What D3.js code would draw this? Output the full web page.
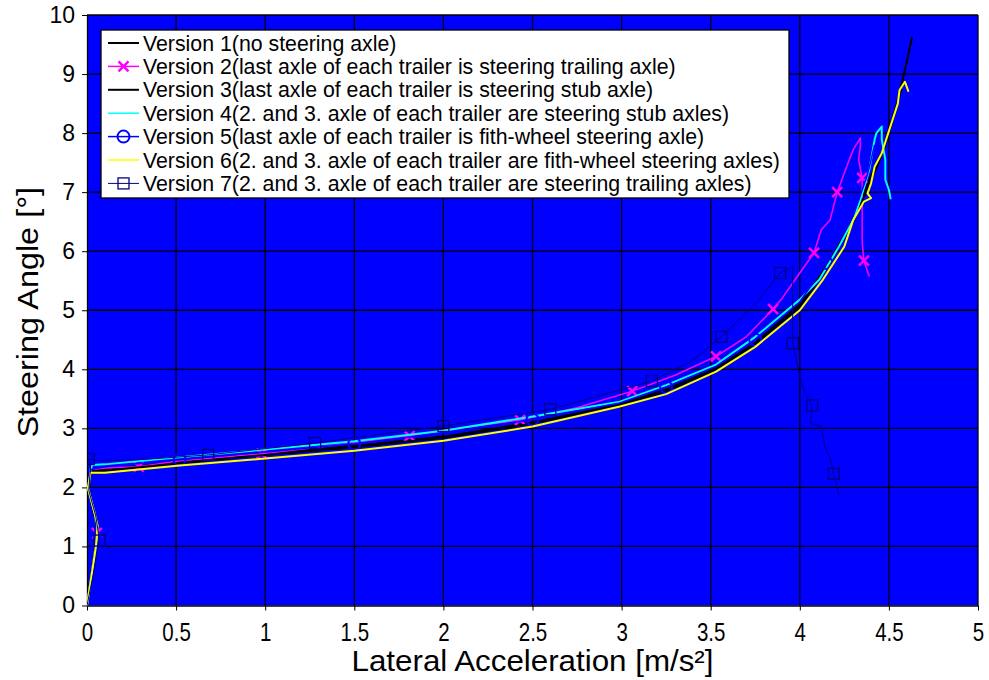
<!DOCTYPE html>
<html>
<head>
<meta charset="utf-8">
<script src="https://cdnjs.cloudflare.com/ajax/libs/d3/7.8.5/d3.min.js"></script>
<style>
  body { margin: 0; background: #fff; }
  text { font-family: "Liberation Sans", Arial, sans-serif; }
</style>
</head>
<body>
<div id="chart"></div>
<script>
// Tick values
var xTicks = [0, 0.5, 1, 1.5, 2, 2.5, 3, 3.5, 4, 4.5, 5];
var yTicks = [0, 1, 2, 3, 4, 5, 6, 7, 8, 9, 10];

var legendLabels = [
  'Version 1(no steering axle)',
  'Version 2(last axle of each trailer is steering trailing axle)',
  'Version 3(last axle of each trailer is steering stub axle)',
  'Version 4(2. and 3. axle of each trailer are steering stub axles)',
  'Version 5(last axle of each trailer is fith-wheel steering axle)',
  'Version 6(2. and 3. axle of each trailer are fith-wheel steering axles)',
  'Version 7(2. and 3. axle of each trailer are steering trailing axles)'
];

// [lateral acceleration, steering angle]
var version1 = [[0,0],[0.05,1.1],[0.045,1.5],[0.01,1.95],[0.02,2.28],[0.1,2.3],[0.52,2.43],[1.0,2.57],
  [1.5,2.7],[2.0,2.86],[2.5,3.1],[2.99,3.41],[3.25,3.66],[3.53,4.02],[3.75,4.45],[4.0,5.1],[4.15,5.75],
  [4.3,6.53],[4.39,7.21],[4.46,7.66],[4.55,8.55],[4.59,9.07],[4.63,9.62]];

var version2 = [[0,0],[0.03,0.6],[0.055,1.23],[0.045,1.55],[0.01,1.95],[0.02,2.3],[0.1,2.33],[0.29,2.35],
  [0.52,2.45],[0.98,2.57],[1.4,2.72],[1.81,2.87],[2.0,2.97],[2.43,3.14],[2.75,3.35],[3.06,3.63],[3.3,3.9],
  [3.53,4.22],[3.7,4.55],[3.85,5.02],[3.9,5.2],[4.0,5.63],[4.08,5.97],[4.12,6.36],[4.17,6.53],[4.21,7.0],
  [4.27,7.49],[4.3,7.72],[4.34,7.92],[4.34,7.78],[4.33,7.55],[4.35,7.24],[4.35,6.53],[4.35,6.14],
  [4.36,5.84],[4.39,5.57]];
var version2Marks = [[0.055,1.23],[0.29,2.35],[0.98,2.57],[1.81,2.87],[2.43,3.14],[3.06,3.63],[3.53,4.22],
  [3.85,5.02],[4.08,5.97],[4.21,7.0],[4.35,7.24],[4.36,5.84]];

var version3 = [[0,0],[0.05,1.05],[0.045,1.5],[0.01,1.95],[0.02,2.27],[0.1,2.28],[0.52,2.41],[1.0,2.55],
  [1.5,2.68],[2.0,2.84],[2.5,3.08],[2.99,3.39],[3.25,3.63],[3.53,3.99],[3.75,4.42],[4.0,5.06],[4.15,5.7],
  [4.3,6.5],[4.4,7.2],[4.47,7.7],[4.53,8.3],[4.57,8.75]];

var version4 = [[0,0],[0.055,1.15],[0.045,1.55],[0.008,1.95],[0.02,2.3],[0.03,2.38],[0.1,2.39],[0.52,2.51],
  [1.0,2.64],[1.5,2.78],[2.0,2.96],[2.5,3.2],[2.99,3.45],[3.25,3.73],[3.53,4.08],[3.75,4.55],[4.0,5.18],
  [4.11,5.52],[4.22,6.08],[4.3,6.53],[4.34,6.87],[4.39,7.38],[4.42,7.89],[4.43,8.0],[4.46,8.11],
  [4.46,7.89],[4.48,7.55],[4.48,7.21],[4.5,7.04],[4.51,6.88]];

var version5 = [[0,0],[0.05,1.1],[0.045,1.55],[0.01,1.95],[0.02,2.3],[0.1,2.35],[0.52,2.47],[1.0,2.6],
  [1.5,2.74],[2.0,2.92],[2.5,3.15],[2.99,3.43],[3.25,3.7],[3.53,4.05],[3.75,4.5],[4.0,5.14],[4.15,5.8],
  [4.3,6.6],[4.38,7.3],[4.42,7.8]];
var version5Marks = [[0.05,1.1],[0.52,2.47],[1.5,2.74],[2.5,3.15],[3.25,3.7],[3.75,4.5],[4.15,5.8]];

var version6 = [[0,0],[0.05,1.0],[0.06,1.35],[0.03,1.7],[0.005,2.0],[0.02,2.25],[0.1,2.25],[0.52,2.37],
  [1.0,2.49],[1.5,2.62],[2.0,2.79],[2.5,3.03],[2.99,3.37],[3.25,3.58],[3.53,3.96],[3.75,4.38],[4.0,5.0],
  [4.13,5.52],[4.25,6.08],[4.3,6.53],[4.36,6.84],[4.4,6.9],[4.38,6.98],[4.4,7.15],[4.42,7.43],[4.46,7.66],
  [4.49,7.94],[4.52,8.22],[4.55,8.5],[4.56,8.73],[4.59,8.87],[4.61,8.7]];

var version7 = [[0,0],[0.04,0.6],[0.07,1.1],[0.05,1.5],[0.01,1.95],[0.02,2.35],[0.01,2.48],[0.08,2.45],
  [0.3,2.47],[0.68,2.55],[1.28,2.75],[2.0,3.04],[2.6,3.32],[2.99,3.65],[3.17,3.8],[3.4,4.15],[3.56,4.55],
  [3.75,5.1],[3.89,5.63],[3.96,5.74],[3.96,4.84],[3.96,4.44],[4.0,3.88],[4.03,3.6],[4.07,3.39],[4.06,3.09],
  [4.12,3.03],[4.14,2.69],[4.17,2.5],[4.19,2.23],[4.22,1.87]];
var version7Marks = [[0.07,1.1],[0.01,2.48],[0.68,2.55],[1.28,2.75],[2.0,3.04],[2.6,3.32],[3.17,3.8],
  [3.56,4.55],[3.89,5.63],[3.96,4.44],[4.07,3.39],[4.19,2.23]];

var W = 989, H = 680;
var margin = {left: 87, top: 15, right: 11, bottom: 74.5};
var pw = W - margin.left - margin.right, ph = H - margin.top - margin.bottom;

var svg = d3.select('#chart').append('svg')
    .attr('width', W)
    .attr('height', H);

var x = d3.scaleLinear().domain([0, 5]).range([0, pw]);
var y = d3.scaleLinear().domain([0, 10]).range([ph, 0]);

var g = svg.append('g')
    .attr('transform', 'translate(' + margin.left + ',' + margin.top + ')');

// Plot background
g.append('rect')
  .attr('width', pw)
  .attr('height', ph)
  .attr('fill', '#0000ff');

// Grid
g.selectAll('line.hgrid')
  .data(yTicks.slice(1))
  .enter().append('line')
    .attr('x1', 0).attr('x2', pw)
    .attr('y1', function(d) { return y(d); })
    .attr('y2', function(d) { return y(d); })
    .attr('stroke', '#000')
    .attr('stroke-width', 1.3);
g.selectAll('line.vgrid')
  .data(xTicks.slice(1))
  .enter().append('line')
    .attr('y1', 0).attr('y2', ph)
    .attr('x1', function(d) { return x(d); })
    .attr('x2', function(d) { return x(d); })
    .attr('stroke', '#000')
    .attr('stroke-width', 1.3);

// Axes
var xAxis = g.append('g')
    .attr('transform', 'translate(0,' + ph + ')')
    .call(d3.axisBottom(x).tickValues(xTicks).tickSize(5).tickSizeOuter(0).tickFormat(d3.format('')));
var yAxis = g.append('g')
    .call(d3.axisLeft(y).tickValues(yTicks).tickSize(5).tickSizeOuter(0).tickFormat(d3.format('')));

[xAxis, yAxis].forEach(function(ax) {
  ax.select('.domain').attr('stroke', '#000').attr('stroke-width', 1.3);
  ax.selectAll('.tick line').attr('stroke', '#000').attr('stroke-width', 1);
  ax.selectAll('.tick text')
    .attr('fill', '#000')
    .style('font-family', '"Liberation Sans", Arial, sans-serif');
});
// x labels look condensed in the original
xAxis.selectAll('.tick text')
  .style('font-size', '25px')
  .attr('y', null)
  .attr('dy', null)
  .attr('transform', 'translate(0,35) scale(0.82,1)');
yAxis.selectAll('.tick text')
  .style('font-size', '23px')
  .attr('x', -12);

// Axis titles
svg.append('text')
  .attr('transform', 'translate(' + (margin.left + pw / 2) + ',671) scale(1.08,1)')
  .attr('text-anchor', 'middle')
  .style('font-size', '29px')
  .text('Lateral Acceleration [m/s²]');

svg.append('text')
  .attr('transform', 'translate(27,' + (margin.top + ph / 2 + 2) + ') rotate(-90) scale(1.08,1)')
  .attr('text-anchor', 'middle')
  .attr('dy', '0.36em')
  .style('font-size', '30px')
  .text('Steering Angle [°]');

// Series
var line = d3.line()
    .x(function(d) { return x(d[0]); })
    .y(function(d) { return y(d[1]); });

var series = [
  {data: version1, color: '#000000', width: 2},
  {data: version2, color: '#ff00ff', width: 1.5, marks: version2Marks, marker: 'x'},
  {data: version3, color: '#000000', width: 2},
  {data: version4, color: '#00ffff', width: 2},
  {data: version5, color: '#0000ff', width: 1.5, marks: version5Marks, marker: 'o'},
  {data: version6, color: '#ffff00', width: 2},
  {data: version7, color: '#000080', width: 1, marks: version7Marks, marker: 's'}
];

g.append('clipPath').attr('id', 'plotclip')
  .append('rect').attr('width', pw).attr('height', ph);

var plot = g.append('g').attr('clip-path', 'url(#plotclip)');

var drawMarker = function(sel, type, color, cx, cy) {
  if (type == 'x') {
    sel.append('path')
      .attr('d', 'M' + (cx - 5) + ',' + (cy - 5) + 'L' + (cx + 5) + ',' + (cy + 5)
        + 'M' + (cx - 5) + ',' + (cy + 5) + 'L' + (cx + 5) + ',' + (cy - 5))
      .attr('stroke', color)
      .attr('stroke-width', 2.5)
      .attr('fill', 'none');
  } else if (type == 'o') {
    sel.append('circle')
      .attr('cx', cx).attr('cy', cy).attr('r', 6)
      .attr('stroke', color).attr('stroke-width', 2).attr('fill', 'none');
  } else if (type == 's') {
    sel.append('rect')
      .attr('x', cx - 5.5).attr('y', cy - 5.5)
      .attr('width', 11).attr('height', 11)
      .attr('stroke', color).attr('stroke-width', 1.3).attr('fill', 'none');
  }
};

series.forEach(function(s) {
  plot.append('path')
    .datum(s.data)
    .attr('d', line)
    .attr('fill', 'none')
    .attr('stroke', s.color)
    .attr('stroke-width', s.width)
    .attr('stroke-linejoin', 'round');
  if (s.marks) {
    s.marks.forEach(function(m) {
      drawMarker(plot, s.marker, s.color, x(m[0]), y(m[1]));
    });
  }
});

// Legend
var lg = svg.append('g').attr('transform', 'translate(101,30)');
lg.append('rect')
  .attr('width', 688)
  .attr('height', 168)
  .attr('fill', '#fff')
  .attr('stroke', '#000')
  .attr('stroke-width', 1.3);

var legendStyle = [
  {color: '#000000', width: 2},
  {color: '#ff00ff', width: 1.5, marker: 'x'},
  {color: '#000000', width: 2},
  {color: '#00ffff', width: 1.5},
  {color: '#0000ff', width: 1.5, marker: 'o'},
  {color: '#ffff00', width: 1.5},
  {color: '#000080', width: 1, marker: 's'}
];

legendLabels.forEach(function(label, i) {
  var cy = 13 + i * 23.4;
  var st = legendStyle[i];
  lg.append('line')
    .attr('x1', 7).attr('x2', 38)
    .attr('y1', cy).attr('y2', cy)
    .attr('stroke', st.color)
    .attr('stroke-width', st.width);
  if (st.marker) {
    drawMarker(lg, st.marker, st.color, 22.5, cy);
  }
  lg.append('text')
    .attr('x', 42)
    .attr('y', cy)
    .attr('dy', '0.36em')
    .style('font-size', '21.3px')
    .text(label);
});
</script>
</body>
</html>
